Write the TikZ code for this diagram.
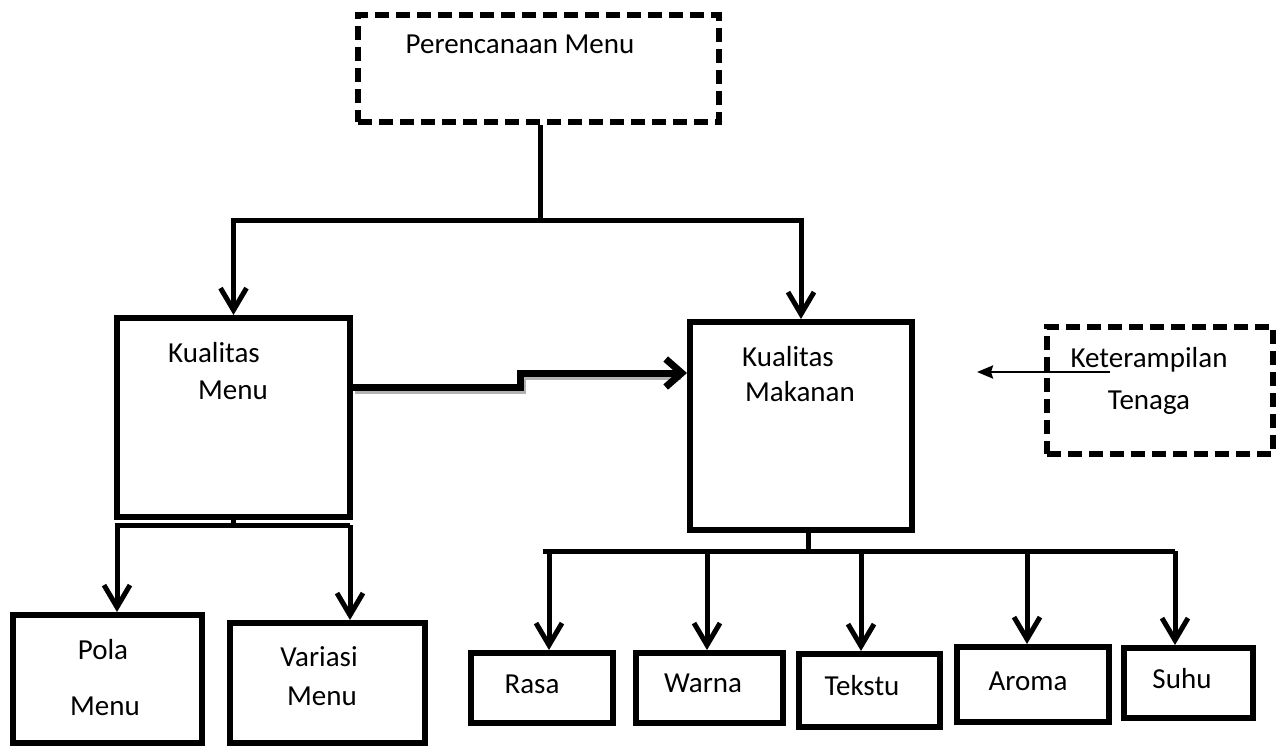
\documentclass[tikz,border=0pt]{standalone}
\usepackage{fontspec}
\setmainfont{Carlito}
\usepackage{tikz}
\usetikzlibrary{arrows.meta, calc}
\tikzset{
  solid box/.style={
    draw,
    rectangle,
    line width=6pt,
    inner sep=0pt
  },
  dashed box/.style={
    draw,
    rectangle,
    line width=6pt,
    dash pattern=on 14pt off 7pt,
    inner sep=0pt
  },
  link line/.style={
    line width=5pt
  },
  link arrow/.style={
    -{Straight Barb[length=22pt, width=26pt]},
    line width=5pt
  },
  word/.style={
    anchor=base,
    inner sep=0pt,
    font=\fontsize{29}{34}\selectfont
  }
}

\begin{document}
\begin{tikzpicture}[x=1pt, y=-1pt]
    \useasboundingbox (0,0) rectangle (1283,745);

    % 1. kotak-kotak
    \node[dashed box, minimum width=361pt, minimum height=107pt] (plan) at (538.5,68.5) {};
    \node[solid box, minimum width=233pt, minimum height=199pt] (kmenu) at (233.5,417.5) {};
    \node[solid box, minimum width=222pt, minimum height=208pt] (kmakan) at (801,426) {};
    \node[dashed box, minimum width=226pt, minimum height=127pt] (skill) at (1160,390.5) {};
    \node[solid box, minimum width=189pt, minimum height=128pt] (pola) at (107.5,679) {};
    \node[solid box, minimum width=195pt, minimum height=120pt] (variasi) at (327.5,683) {};
    \node[solid box, minimum width=142pt, minimum height=70pt] (rasa) at (542,688) {};
    \node[solid box, minimum width=147pt, minimum height=70pt] (warna) at (709.5,688) {};
    \node[solid box, minimum width=141pt, minimum height=73pt] (tekstu) at (869.5,690.5) {};
    \node[solid box, minimum width=152pt, minimum height=75pt] (aroma) at (1033,684.5) {};
    \node[solid box, minimum width=129pt, minimum height=70pt] (suhu) at (1188.5,683) {};

    % 2. teks
    \node[word] (tPlan) at (520,53) {Perencanaan Menu};
    \node[word] (tKm1) at (214,362) {Kualitas};
    \node[word] (tKm2) at (233,399) {Menu};
    \node[word] (tKk1) at (788,366) {Kualitas};
    \node[word] (tKk2) at (800,401) {Makanan};
    \node[word] (tSk1) at (1149,367) {Keterampilan};
    \node[word] (tSk2) at (1149,409) {Tenaga};
    \node[word] (tPola1) at (103,659) {Pola};
    \node[word] (tPola2) at (105,715) {Menu};
    \node[word] (tVar1) at (319,666) {Variasi};
    \node[word] (tVar2) at (322,705) {Menu};
    \node[word] (tRasa) at (532,693) {Rasa};
    \node[word] (tWarna) at (703,692) {Warna};
    \node[word] (tTekstu) at (862,695) {Tekstu};
    \node[word] (tAroma) at (1028,690) {Aroma};
    \node[word] (tSuhu) at (1182,688) {Suhu};

    % 3. cabang dari perencanaan menu
    \coordinate (fork) at (540,220);
    \draw[link line] (fork |- plan.south) -- (fork);
    \draw[link arrow] (fork) -| (kmenu.north);
    \draw[link arrow] (fork) -| (kmakan.north);

    % 4. kualitas menu -> pola dan variasi
    \coordinate (forkL) at (117,525);
    \coordinate (forkR) at (350,525);
    \draw[link line] (kmenu.south) -- (kmenu.south |- forkL);
    \draw[link arrow] (forkR) -- (forkL) -- (forkL |- pola.north);
    \draw[link arrow] (forkR) -- (forkR |- variasi.north);

    % 5. kualitas makanan -> lima unsur
    \coordinate (drop) at (808,551);
    \coordinate (barL) at (543,551);
    \draw[link line] (drop |- kmakan.south) -- (drop);
    \draw[link line] (barL) -- (1175,551);
    \foreach \t/\x in {rasa/549, warna/707, tekstu/861, aroma/1027, suhu/1175}{
      \coordinate (drop\t) at (\x,551);
      \draw[link arrow] (drop\t) -- (drop\t |- \t.north);
    }

    % 6. panah tebal (dengan bayangan)
    \coordinate (stepA) at (520,387);
    \coordinate (stepB) at (520,373);
    \draw[gray!60, line width=7pt, transform canvas={xshift=2pt, yshift=-3pt}]
      (kmenu.east |- stepA) -- (stepA) -- (stepB) -- ($(kmakan.west |- stepB)+(-8,0)$);
    \draw[-{Straight Barb[length=16pt, width=28pt]}, line width=7pt]
      (kmenu.east |- stepA) -- (stepA) -- (stepB) -- (kmakan.west |- stepB);

    % 7. panah keterampilan tenaga
    \coordinate (skFrom) at ($(skill.west)+(66,-18.5)$);
    \coordinate (skTo) at ($(skill.west)+(-67,-18.5)$);
    \draw[-{Stealth[length=16pt, width=13pt, inset=2pt]}, line width=2.5pt] (skFrom) -- (skTo);

\end{tikzpicture}
\end{document}
